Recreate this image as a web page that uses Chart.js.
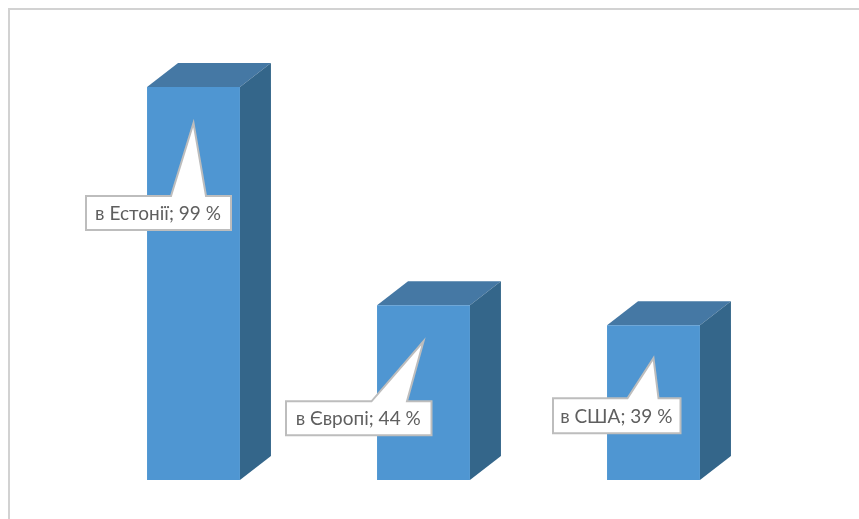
<!DOCTYPE html>
<html>
<head>
<meta charset="utf-8">
<script src="https://cdn.jsdelivr.net/npm/chart.js@4"></script>
<style>
  html, body { margin: 0; padding: 0; background: #fff; overflow: hidden; }
  #frame { position: absolute; left: 8px; top: 8px; width: 900px; height: 600px; border: 2px solid #d2d2d2; box-sizing: border-box; }
  #chart { position: absolute; left: 0; top: 0; }
</style>
</head>
<body>
<div id="frame"></div>
<canvas id="chart" width="859" height="519"></canvas>
<script>
const categories = ["в Естонії", "в Європі", "в США"];
const percents = [99, 44, 39];

const frontColor = "#4f96d2";
const topColor = "#4578a4";
const sideColor = "#34668a";
const depthX = 31;
const depthY = 24;

// offsets from the bar's centre x / top y
const callouts = [
  { left: -107.5, right: 37.5, top: 109, bottom: 143, tipY: 36, baseL: -22.5, baseR: 12.5 },
  { left: -137.5, right: 8, top: 96, bottom: 130, tipY: 36, baseL: -52, baseR: -16.5 },
  { left: -100.5, right: 27, top: 73, bottom: 108, tipY: 33, baseL: -26, baseR: 5 }
];

function poly(ctx, pts, color) {
  ctx.beginPath();
  pts.forEach((p, i) => i ? ctx.lineTo(p[0], p[1]) : ctx.moveTo(p[0], p[1]));
  ctx.closePath();
  ctx.fillStyle = color;
  ctx.fill();
}

const boxFaces = {
  id: "boxFaces",
  beforeDatasetsDraw(chart) {
    const ctx = chart.ctx;
    chart.getDatasetMeta(0).data.forEach(bar => {
      const l = bar.x - bar.width / 2, r = bar.x + bar.width / 2;
      poly(ctx, [[l, bar.y], [l + depthX, bar.y - depthY], [r + depthX, bar.y - depthY], [r, bar.y]], topColor);
      poly(ctx, [[r, bar.y], [r + depthX, bar.y - depthY], [r + depthX, bar.base - depthY], [r, bar.base]], sideColor);
    });
  }
};

const dataCallouts = {
  id: "dataCallouts",
  afterDatasetsDraw(chart) {
    const ctx = chart.ctx;
    chart.getDatasetMeta(0).data.forEach((bar, i) => {
      const c = callouts[i];
      const x = bar.x, y = bar.y;
      ctx.beginPath();
      ctx.moveTo(x + c.left, y + c.top);
      ctx.lineTo(x + c.baseL, y + c.top);
      ctx.lineTo(x, y + c.tipY);
      ctx.lineTo(x + c.baseR, y + c.top);
      ctx.lineTo(x + c.right, y + c.top);
      ctx.lineTo(x + c.right, y + c.bottom);
      ctx.lineTo(x + c.left, y + c.bottom);
      ctx.closePath();
      ctx.fillStyle = "#fff";
      ctx.fill();
      ctx.strokeStyle = "#bdbdbd";
      ctx.lineWidth = 2;
      ctx.stroke();

      ctx.fillStyle = "#5f5f5f";
      ctx.font = '19px Lato, "Open Sans", sans-serif';
      ctx.textAlign = "center";
      ctx.textBaseline = "middle";
      ctx.fillText(categories[i] + "; " + percents[i] + " %", x + (c.left + c.right) / 2 - 0.5, y + (c.top + c.bottom) / 2 + 1);
    });
  }
};

new Chart(document.getElementById("chart"), {
  type: "bar",
  data: {
    labels: categories,
    datasets: [{
      data: percents,
      backgroundColor: frontColor,
      borderWidth: 0,
      categoryPercentage: 0.404,
      barPercentage: 1
    }]
  },
  options: {
    responsive: false,
    animation: false,
    devicePixelRatio: 1,
    layout: { padding: { left: 78.5, right: 90.5, top: 83, bottom: 39 } },
    plugins: { legend: { display: false }, tooltip: { enabled: false } },
    scales: {
      x: { display: false },
      y: { display: false, min: 0, max: 100 }
    }
  },
  plugins: [boxFaces, dataCallouts]
});
</script>
</body>
</html>
